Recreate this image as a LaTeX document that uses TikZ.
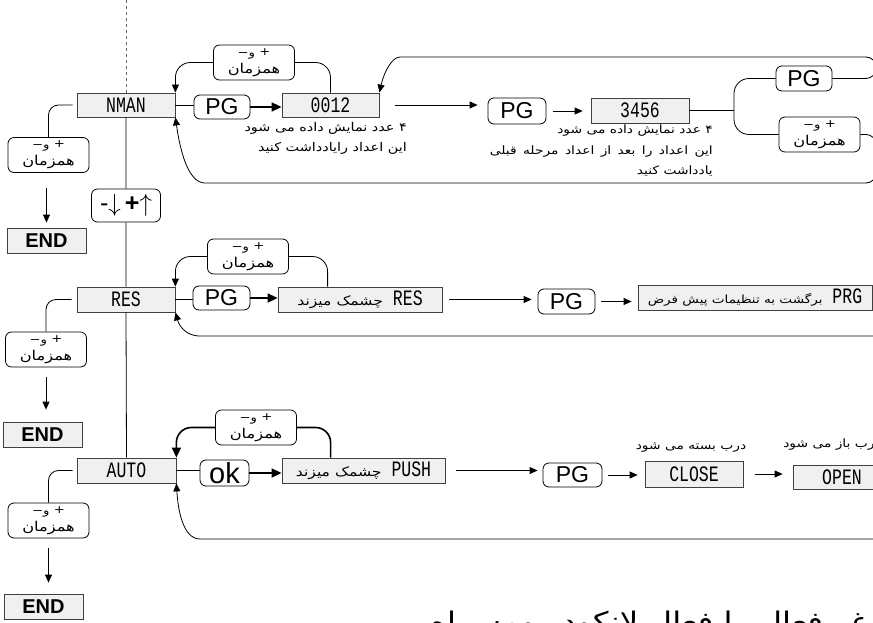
\documentclass[tikz,border=0pt]{standalone}
\usepackage{fontspec}
\setmainfont{Liberation Sans}
\newfontfamily\fa[Script=Arabic,FakeStretch=1.2]{DejaVu Sans}
\newfontfamily\lcd[FakeStretch=0.75]{Liberation Mono}
\TeXXeTstate=1
\usetikzlibrary{arrows.meta,calc}
\definecolor{boxgray}{RGB}{240,240,240}
\tikzset{
  lcdbox/.style={draw=black!75, fill=boxgray, line width=0.8pt, inner sep=0pt, font=\lcd\fontsize{22}{22}\selectfont},
  endbox/.style={draw=black!75, fill=boxgray, line width=0.8pt, inner sep=0pt, font=\bfseries\fontsize{20}{20}\selectfont},
  rbox/.style={draw, rounded corners=6pt, fill=white, line width=0.8pt, inner sep=0pt},
  pgbox/.style={rbox, font=\fontsize{23}{23}\selectfont},
  hzbox/.style={rbox, minimum width=81pt, minimum height=35pt, align=center, font=\fa\fontsize{13.5}{17}\selectfont},
  note/.style={align=right, inner sep=0pt, font=\fa\fontsize{12}{20}\selectfont},
  lbl/.style={inner sep=0pt, font=\fa\fontsize{11.5}{13}\selectfont},
  conn/.style={line width=0.8pt},
  arr/.style={conn, -{Triangle[length=8pt,width=7pt]}},
  tline/.style={line width=1.6pt},
  tarr/.style={tline, -{Triangle[length=10pt,width=9pt]}},
}
\newcommand{\hztext}{{\fontsize{11}{11}\selectfont\mbox{−}\mbox{و}~\raisebox{1pt}{\mbox{+}}}\\همزمان}
\newcommand{\intext}{\fa\fontsize{13}{13}\selectfont}
\begin{document}
\begin{tikzpicture}[x=1pt,y={(0pt,-1pt)}]
\useasboundingbox (0,0) rectangle (873,623);
% ---------- NMAN row
\node[lcdbox, minimum width=98pt, minimum height=24pt] (nman) at (126,105) {NMAN};
\node[pgbox, minimum width=56pt, minimum height=24pt] (pg1) at (222,107) {PG};
\node[lcdbox, minimum width=97pt, minimum height=24pt] (n0012) at (330.5,105) {0012};
\node[pgbox, minimum width=58pt, minimum height=26pt] (pg2) at (517,111) {PG};
\node[lcdbox, minimum width=98pt, minimum height=25pt] (n3456) at (640,110.5) {3456};
\node[pgbox, minimum width=56pt, minimum height=25pt] (pg3) at (804,78.5) {PG};
\node[hzbox] (hzr) at (819.5,134.5) {\hztext};
\node[hzbox] (hz1) at (254,62.5) {\hztext};
\node[hzbox] (hzl1) at (48.5,155) {\hztext};
\node[endbox, minimum width=79pt, minimum height=25pt] (end1) at (46.5,240.5) {END};
\node[rbox, minimum width=69pt, minimum height=33pt, font=\fontsize{25}{25}\selectfont] (keys) at (126,205.5) {-$\downarrow$\,\textbf{+}$\uparrow$};
\node[note, anchor=north east] (note1) at (407,122) {\beginR ۴ عدد نمایش داده می شود\endR\\\beginR این اعداد رایادداشت کنید\endR};
\node[note, anchor=north east, font=\fa\fontsize{11.5}{20.5}\selectfont] (note2) at (713,125) {\beginR ۴ عدد نمایش داده می شود\endR\\\makebox[223pt][s]{\beginR این اعداد را بعد از اعداد مرحله قبلی\endR}\\\beginR یادداشت کنید\endR};
% ---------- RES row
\node[lcdbox, minimum width=98pt, minimum height=25pt] (res) at (126,299.5) {RES};
\node[hzbox] (hz2) at (248,256.5) {\hztext};
\node[pgbox, minimum width=57pt, minimum height=24pt] (pg4) at (221.5,298) {PG};
\node[lcdbox, minimum width=164pt, minimum height=25pt] (resb) at (360,299.5) {\beginR{\lcd RES} {\intext چشمک میزند}\endR};
\node[pgbox, minimum width=57pt, minimum height=25pt] (pg5) at (566.5,301.5) {PG};
\node[lcdbox, minimum width=234pt, minimum height=25pt] (prg) at (755,297.5) {\beginR{\lcd PRG} {\fa\fontsize{11.3}{11.3}\selectfont برگشت به تنظیمات پیش فرض}\endR};
\node[hzbox] (hzl2) at (46,349.5) {\hztext};
\node[endbox, minimum width=79pt, minimum height=25pt] (end2) at (42.5,434.5) {END};
% ---------- AUTO row
\node[lcdbox, minimum width=99pt, minimum height=25pt] (auto) at (126.5,470.5) {AUTO};
\node[hzbox] (hz3) at (256,427.5) {\hztext};
\node[pgbox, minimum width=49pt, minimum height=26pt, font=\fontsize{29}{29}\selectfont] (ok) at (224.5,473) {ok};
\node[lcdbox, minimum width=163pt, minimum height=25pt] (push) at (363.5,470.5) {\beginR{\lcd PUSH} {\intext چشمک میزند}\endR};
\node[pgbox, minimum width=59pt, minimum height=24pt] (pg6) at (572.5,475) {PG};
\node[lcdbox, minimum width=98pt, minimum height=26pt] (close) at (694,474) {CLOSE};
\node[lbl] (closel) at (691,448) {\beginR درب بسته می شود\endR};
\node[lcdbox, minimum width=98pt, minimum height=24pt] (open) at (842,477) {OPEN};
\node[lbl] (openl) at (832,445) {\beginR درب باز می شود\endR};
\node[hzbox] (hzl3) at (48.5,520.5) {\hztext};
\node[endbox, minimum width=79pt, minimum height=25pt] (end3) at (43.5,606.5) {END};
\node[anchor=base west, inner sep=0pt, font=\fa\fontsize{27}{27}\selectfont] (title) at (430,631) {\beginR غیرفعال را فعال لانکودر ومسراه\endR};
% ---------- free ends
\coordinate (top) at (126,0);
\coordinate (split) at (734,110.5);
\coordinate (ra) at (876,78.5);
\coordinate (rb) at (876,57);
\coordinate (rc) at (410,57);
\coordinate (rd) at (876,134.5);
\coordinate (re) at (876,183);
\coordinate (rf) at (215,183);
\coordinate (rg) at (880,336);
\coordinate (rh) at (200,336);
\coordinate (ri) at (880,539);
\coordinate (rj) at (200,539);
% ---------- connectors
\draw[dashed, line width=0.7pt, black!60] (top) -- (nman.north);
\draw[conn] (nman.south) -- (keys.north) (keys.south) -- (res.north) (res.south) -- (auto.north);
% NMAN
\draw[conn] (nman.east) -- (nman.east -| pg1.west);
\draw[tarr] (pg1.east) -- (pg1.east -| n0012.west);
\draw[arr, shorten <=16pt, shorten >=10pt] (n0012.east) -- (n0012.east -| pg2.west);
\draw[arr, shorten <=7pt, shorten >=8pt] (pg2.east) -- (pg2.east -| n3456.west);
\draw[conn] (n3456.east) -- (split);
\draw[conn, rounded corners=15pt] (split) |- (pg3.west);
\draw[conn, rounded corners=15pt] (split) |- (hzr.west);
\draw[arr, rounded corners=10pt] (pg3.east) -- (ra) -- (rb) -- (rc) .. controls (392,57) and (384,72) .. (n0012.north east);
\draw[arr, rounded corners=10pt] (hzr.east) -- (rd) -- (re) -- (rf) .. controls (188,183) and (180,150) .. (nman.south east);
\draw[arr, rounded corners=15pt] (hz1.west) -| (nman.north east);
\draw[conn, rounded corners=15pt] (hz1.east) -| (n0012.north);
\draw[conn, rounded corners=10pt, shorten <=4pt] (nman.west) -| (hzl1.north);
\draw[arr, shorten <=15pt, shorten >=5pt] (end1.north |- hzl1.south) -- (end1.north);
% RES
\draw[arr, rounded corners=15pt] (hz2.west) -| (res.north east);
\draw[conn, rounded corners=15pt] (hz2.east) -| ([xshift=50pt]resb.north west);
\draw[conn] (res.east) -- (res.east -| pg4.west);
\draw[tarr] (pg4.east) -- (pg4.east -| resb.west);
\draw[arr, shorten <=7pt, shorten >=6pt] (resb.east) -- (resb.east -| pg5.west);
\draw[arr, shorten <=6pt, shorten >=6pt] (pg5.east) -- (pg5.east -| prg.west);
\draw[arr] (rg) -- (rh) .. controls (185,336) and (179,325) .. (res.south east);
\draw[conn, rounded corners=10pt, shorten <=5pt] (res.west) -| (hzl2.north);
\draw[arr, shorten <=10pt, shorten >=12pt] (hzl2.south) -- (hzl2.south |- end2.north);
% AUTO
\draw[tarr, rounded corners=15pt] (hz3.west) -| (auto.north east);
\draw[tline, rounded corners=15pt] (hz3.east) -| ([xshift=49pt]push.north west);
\draw[conn] (auto.east) -- (auto.east -| ok.west);
\draw[tarr] (ok.east) -- (ok.east -| push.west);
\draw[arr, shorten <=11pt, shorten >=5pt] (push.east) -- (push.east -| pg6.west);
\draw[arr, shorten <=6pt, shorten >=7pt] (pg6.east) -- (pg6.east -| close.west);
\draw[arr, shorten <=12pt, shorten >=10pt] (close.east) -- (close.east -| open.west);
\draw[arr] (ri) -- (rj) .. controls (183,539) and (178,510) .. (auto.south east);
\draw[conn, rounded corners=10pt, shorten <=4pt] (auto.west) -| (hzl3.north);
\draw[arr, shorten <=10pt, shorten >=11pt] (hzl3.south) -- (hzl3.south |- end3.north);
\end{tikzpicture}
\end{document}
